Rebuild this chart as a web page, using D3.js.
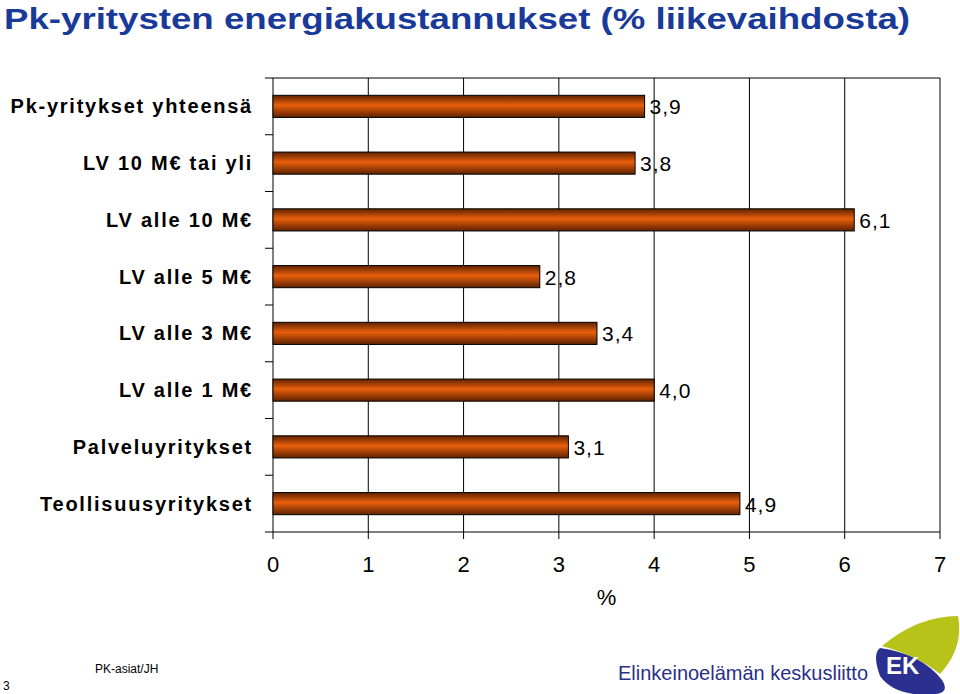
<!DOCTYPE html>
<html><head><meta charset="utf-8">
<script src="https://cdn.jsdelivr.net/npm/d3@7"></script>
<style>body{margin:0;background:#fff}text{font-family:Arial,"Liberation Sans",sans-serif}</style>
</head><body>
<script>
// DATA
var categories = ["Pk-yritykset yhteensä", "LV 10 M€ tai yli", "LV alle 10 M€", "LV alle 5 M€",
  "LV alle 3 M€", "LV alle 1 M€", "Palveluyritykset", "Teollisuusyritykset"];
var values = [3.9, 3.8, 6.1, 2.8, 3.4, 4.0, 3.1, 4.9];
var xTicks = [0, 1, 2, 3, 4, 5, 6, 7];

var margin = {top: 78, left: 273, right: 20, bottom: 162},
  width = 940 - margin.left,
  height = 532 - margin.top;

var svg = d3.select("body").append("svg").attr("width", 960).attr("height", 694);

// bar gradient
var grad = svg.append("defs").append("linearGradient").attr("id", "bar")
  .attr("x1", 0).attr("y1", 0).attr("x2", 0).attr("y2", 1);
grad.append("stop").attr("offset", "0%").attr("stop-color", "#5e2200");
grad.append("stop").attr("offset", "45%").attr("stop-color", "#e85f0c");
grad.append("stop").attr("offset", "100%").attr("stop-color", "#5e2200");

svg.append("text").attr("x", 4).attr("y", 29).attr("font-size", 29).attr("font-weight", "bold")
  .attr("fill", "#1a3a9a").attr("textLength", 906).attr("lengthAdjust", "spacingAndGlyphs")
  .text("Pk-yritysten energiakustannukset (% liikevaihdosta)");

var g = svg.append("g").attr("transform", "translate(" + margin.left + "," + margin.top + ")");

var x = d3.scaleLinear().domain([0, 7]).range([0, width]);
var y = d3.scaleBand().domain(categories).range([0, height]).paddingInner(0.61).paddingOuter(0.305);

// gridlines
g.selectAll("line.grid").data(xTicks).enter().append("line")
  .attr("x1", d => x(d)).attr("x2", d => x(d)).attr("y1", 0).attr("y2", height + 7)
  .attr("stroke", "#000").attr("stroke-width", 1);
g.append("line").attr("x1", 0).attr("x2", width).attr("y1", 0).attr("y2", 0).attr("stroke", "#000");
g.append("line").attr("x1", 0).attr("x2", width).attr("y1", height).attr("y2", height).attr("stroke", "#000");

// category ticks on left axis
var step = y.step();
g.selectAll("line.ytick").data(d3.range(categories.length + 1)).enter().append("line")
  .attr("x1", -8).attr("x2", 0).attr("y1", d => d * step).attr("y2", d => d * step)
  .attr("stroke", "#000");

g.selectAll("rect.bar").data(values).enter().append("rect")
  .attr("x", 0).attr("y", (d, i) => y(categories[i]))
  .attr("width", d => x(d)).attr("height", y.bandwidth())
  .attr("fill", "url(#bar)").attr("stroke", "#000").attr("stroke-width", 1);

g.selectAll("text.val").data(values).enter().append("text")
  .attr("x", d => x(d) + 5).attr("y", (d, i) => y(categories[i]) + y.bandwidth() / 2 + 8)
  .attr("font-size", 21).attr("letter-spacing", 1).text(d => d.toFixed(1).replace(".", ","));

g.selectAll("text.cat").data(categories).enter().append("text")
  .attr("x", -20).attr("y", d => y(d) + y.bandwidth() / 2 + 7).attr("text-anchor", "end")
  .attr("font-size", 20).attr("font-weight", "bold").attr("letter-spacing", 1.75).text(d => d);

g.selectAll("text.xt").data(xTicks).enter().append("text")
  .attr("x", d => x(d)).attr("y", height + 40).attr("text-anchor", "middle")
  .attr("font-size", 22).text(d => d);

g.append("text").attr("x", x(3.5)).attr("y", height + 73).attr("text-anchor", "middle")
  .attr("font-size", 22).text("%");

// footer
svg.append("text").attr("x", 95).attr("y", 673).attr("font-size", 12).text("PK-asiat/JH");
svg.append("text").attr("x", 3).attr("y", 690).attr("font-size", 12).text("3");
svg.append("text").attr("x", 618).attr("y", 680).attr("font-size", 21).attr("fill", "#2a2f8a")
  .attr("textLength", 250).attr("lengthAdjust", "spacingAndGlyphs").text("Elinkeinoelämän keskusliitto");
var logo = svg.append("g").attr("transform", "translate(878,614)");
logo.append("path").attr("d", "M4,32 Q40,2 80,2 Q86,34 62,60 Q40,42 4,32Z").attr("fill", "#b8c31a");
logo.append("path").attr("d", "M2,34 Q44,40 64,66 Q72,78 58,80 Q18,84 2,62 Q-6,40 2,34Z").attr("fill", "#2b2f8f");
logo.append("text").attr("x", 8).attr("y", 60).attr("font-size", 24).attr("font-weight", "bold")
  .attr("fill", "#fff").text("EK");
</script>
</body></html>
